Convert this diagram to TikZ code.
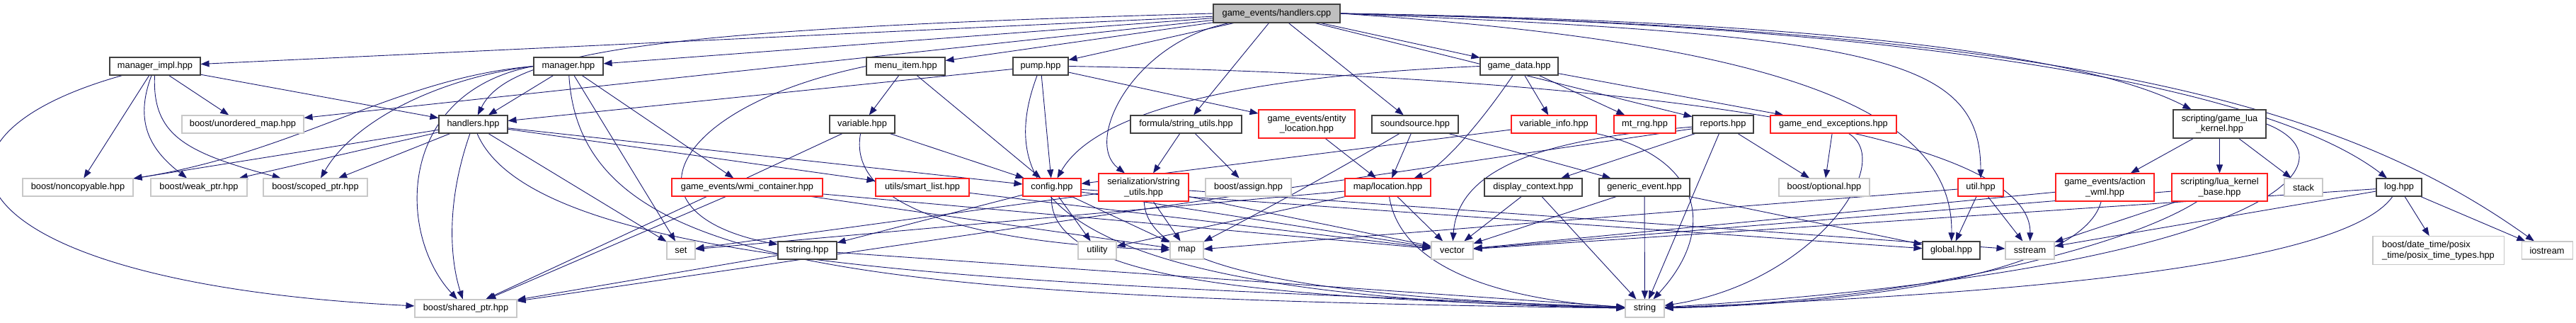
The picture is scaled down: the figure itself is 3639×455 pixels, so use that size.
\documentclass[tikz,border=0pt]{standalone}
\usepackage{fontspec}
\setmainfont{Liberation Sans}
\usepackage{tikz}
\usetikzlibrary{arrows.meta, backgrounds}
\definecolor{EdgeBlue}{RGB}{25,25,112}
\definecolor{SysGray}{RGB}{200,200,200}
\definecolor{RootGray}{RGB}{191,191,191}
\definecolor{BoxRed}{RGB}{255,30,30}

\begin{document}
\begin{tikzpicture}[x=1pt, y=-1pt,
	font=\fontsize{12.8}{14.5}\selectfont,
	hdr/.style={draw=black!75, line width=1.1pt, fill=white, inner sep=0pt, minimum height=25pt, align=center},
	hdrred/.style={hdr, draw=BoxRed},
	hdrsys/.style={hdr, draw=SysGray},
	hdrroot/.style={hdr, fill=RootGray},
	incl/.style={draw=EdgeBlue, line width=0.9pt, -{Triangle[length=12pt,width=9pt]}}]
	\useasboundingbox (0,0) rectangle (3639,455);
	
	% 根文件
	\node[hdrroot, minimum width=179pt, minimum height=26pt] (hc) at (1803.5,19) {game\_events/handlers.cpp};
	
	% 第一层
	\node[hdr, minimum width=128pt] (mimpl) at (219,93.5) {manager\_impl.hpp};
	\node[hdr, minimum width=98pt] (mgr) at (803,93.5) {manager.hpp};
	\node[hdr, minimum width=111pt] (menu) at (1279.5,93.5) {menu\_item.hpp};
	\node[hdr, minimum width=78pt] (pump) at (1470,93.5) {pump.hpp};
	\node[hdr, minimum width=110pt] (gdata) at (2146,93.5) {game\_data.hpp};
	
	% 第二层
	\node[hdrsys, minimum width=172pt] (umap) at (343,175.5) {boost/unordered\_map.hpp};
	\node[hdr, minimum width=97pt] (hdl) at (668.5,175.5) {handlers.hpp};
	\node[hdr, minimum width=92pt] (var) at (1218,175.5) {variable.hpp};
	\node[hdr, minimum width=157pt] (fsu) at (1675.5,175.5) {formula/string\_utils.hpp};
	\node[hdrred, minimum width=136pt, minimum height=40pt] (eloc) at (1846,175) {game\_events/entity\\\_location.hpp};
	\node[hdr, minimum width=122pt] (snd) at (1999,175.5) {soundsource.hpp};
	\node[hdrred, minimum width=120pt] (vinfo) at (2195,175.5) {variable\_info.hpp};
	\node[hdrred, minimum width=87pt] (mtrng) at (2323.5,175.5) {mt\_rng.hpp};
	\node[hdr, minimum width=86pt] (rep) at (2434,175.5) {reports.hpp};
	\node[hdrred, minimum width=178pt] (gee) at (2590,175.5) {game\_end\_exceptions.hpp};
	\node[hdr, minimum width=131pt, minimum height=40pt] (glk) at (3135.5,175) {scripting/game\_lua\\\_kernel.hpp};
	
	% 第三层
	\node[hdrsys, minimum width=156pt] (nonc) at (110,264.5) {boost/noncopyable.hpp};
	\node[hdrsys, minimum width=136pt] (weak) at (281,264.5) {boost/weak\_ptr.hpp};
	\node[hdrsys, minimum width=147pt] (scoped) at (445.5,264.5) {boost/scoped\_ptr.hpp};
	\node[hdrred, minimum width=213pt] (wmi) at (1055.5,264.5) {game\_events/wmi\_container.hpp};
	\node[hdrred, minimum width=132pt] (slist) at (1303,264.5) {utils/smart\_list.hpp};
	\node[hdrred, minimum width=82pt] (cfg) at (1486,264.5) {config.hpp};
	\node[hdrred, minimum width=127pt, minimum height=39pt] (ssu) at (1615.5,264.5) {serialization/string\\\_utils.hpp};
	\node[hdrsys, minimum width=121pt] (assign) at (1763.5,264.5) {boost/assign.hpp};
	\node[hdrred, minimum width=121pt] (loc) at (1960.5,264.5) {map/location.hpp};
	\node[hdr, minimum width=138pt] (dctx) at (2166,264.5) {display\_context.hpp};
	\node[hdr, minimum width=128pt] (gev) at (2323,264.5) {generic\_event.hpp};
	\node[hdrsys, minimum width=128pt] (opt) at (2577,264.5) {boost/optional.hpp};
	\node[hdrred, minimum width=64pt] (util) at (2798,264.5) {util.hpp};
	\node[hdrred, minimum width=139pt, minimum height=39pt] (awml) at (2973.5,264.5) {game\_events/action\\\_wml.hpp};
	\node[hdrred, minimum width=135pt, minimum height=39pt] (lkb) at (3135.5,264.5) {scripting/lua\_kernel\\\_base.hpp};
	\node[hdrsys, minimum width=54pt] (stack) at (3254,264.5) {stack};
	\node[hdr, minimum width=64pt] (log) at (3389,264.5) {log.hpp};
	
	% 第四层
	\node[hdrsys, minimum width=40pt] (set) at (962,353.5) {set};
	\node[hdr, minimum width=83pt] (tstr) at (1140.5,353.5) {tstring.hpp};
	\node[hdrsys, minimum width=54pt] (utility) at (1550,353.5) {utility};
	\node[hdrsys, minimum width=47pt] (map) at (1676.5,353.5) {map};
	\node[hdrsys, minimum width=59pt] (vector) at (2051.5,353.5) {vector};
	\node[hdr, minimum width=81pt] (global) at (2756.5,353.5) {global.hpp};
	\node[hdrsys, minimum width=69pt] (sstream) at (2867.5,353.5) {sstream};
	\node[hdrsys, minimum width=185pt, minimum height=40pt, align=left] (posix) at (3444.5,353.5) {boost/date\_time/posix\\\_time/posix\_time\_types.hpp};
	\node[hdrsys, minimum width=72pt] (iostream) at (3598,353.5) {iostream};
	
	% 第五层
	\node[hdrsys, minimum width=144pt] (sptr) at (658,435.5) {boost/shared\_ptr.hpp};
	\node[hdrsys, minimum width=55pt] (string) at (2323.5,435.5) {string};
	
	\begin{scope}[on background layer]
	% handlers.cpp
	\draw[incl] (hc) -- (mimpl);
	\draw[incl] (hc) -- (umap);
	\draw[incl] (hc) -- (mgr);
	\draw[incl] (hc.west) .. controls (950,40) and (720,70) .. (hdl);
	\draw[incl] (hc) -- (menu);
	\draw[incl] (hc) -- (pump);
	\draw[incl] (hc) -- (fsu);
	\draw[incl] (hc) .. controls (1600,60) and (1530,200) .. (ssu);
	\draw[incl] (hc) -- (snd);
	\draw[incl] (hc) -- (gdata);
	\draw[incl] (hc) -- (rep);
	\draw[incl] (hc.east) .. controls (2650,50) and (2798,80) .. (util);
	\draw[incl] (hc.east) .. controls (2500,60) and (2760,150) .. (global);
	\draw[incl] (hc.east) .. controls (2600,30) and (2950,80) .. (glk);
	\draw[incl] (hc.east) .. controls (2700,35) and (3200,120) .. (log);
	\draw[incl] (hc.east) .. controls (2900,40) and (3300,140) .. (iostream);
	
	% manager_impl.hpp
	\draw[incl] (mimpl) -- (umap);
	\draw[incl] (mimpl) -- (hdl);
	\draw[incl] (mimpl) -- (nonc);
	\draw[incl] (mimpl) .. controls (190,170) and (210,210) .. (weak);
	\draw[incl] (mimpl) .. controls (215,190) and (260,215) .. (scoped);
	\draw[incl] (mimpl) .. controls (-160,200) and (-60,400) .. (sptr);
	
	% manager.hpp
	\draw[incl] (mgr) -- (hdl);
	\draw[incl] (mgr) -- (wmi);
	\draw[incl] (mgr) -- (set);
	\draw[incl] (mgr.west) .. controls (560,110) and (420,215) .. (nonc);
	\draw[incl] (mgr.west) .. controls (620,110) and (500,170) .. (scoped);
	\draw[incl] (mgr.west) .. controls (560,130) and (560,330) .. (sptr);
	\draw[incl] (mgr) .. controls (820,380) and (1200,420) .. (string);
	
	% handlers.hpp
	\draw[incl] (hdl) -- (nonc);
	\draw[incl] (hdl) -- (weak);
	\draw[incl] (hdl) -- (scoped);
	\draw[incl] (hdl) .. controls (625,300) and (640,380) .. (sptr);
	\draw[incl] (hdl) -- (cfg);
	\draw[incl] (hdl) -- (slist);
	\draw[incl] (hdl) -- (set);
	\draw[incl] (hdl) .. controls (760,390) and (1500,400) .. (string);
	
	% menu_item.hpp, variable.hpp
	\draw[incl] (menu) -- (var);
	\draw[incl] (menu) -- (cfg);
	\draw[incl] (menu.west) .. controls (950,150) and (870,300) .. (tstr);
	\draw[incl] (var) -- (sptr);
	\draw[incl] (var) -- (cfg);
	\draw[incl] (var) .. controls (1195,300) and (1400,345) .. (map);
	
	% pump.hpp
	\draw[incl] (pump) -- (hdl);
	\draw[incl] (pump) -- (cfg);
	\draw[incl] (pump) -- (eloc);
	\draw[incl] (pump.east) .. controls (2400,110) and (2870,200) .. (sstream);
	\draw[incl] (pump) .. controls (1400,280) and (1500,420) .. (string);
	
	% wmi_container.hpp, smart_list.hpp
	\draw[incl] (wmi) -- (sptr);
	\draw[incl] (wmi) -- (vector);
	\draw[incl] (wmi) -- (map);
	\draw[incl] (slist) -- (vector);
	
	% config.hpp
	\draw[incl] (cfg) -- (tstr);
	\draw[incl] (cfg) -- (utility);
	\draw[incl] (cfg) -- (map);
	\draw[incl] (cfg) -- (vector);
	\draw[incl] (cfg) -- (global);
	\draw[incl] (cfg) .. controls (1480,400) and (1800,420) .. (string);
	
	% string_utils
	\draw[incl] (fsu) -- (ssu);
	\draw[incl] (fsu) -- (assign);
	\draw[incl] (ssu) -- (set);
	\draw[incl] (ssu) -- (map);
	\draw[incl] (ssu) -- (vector);
	\draw[incl] (ssu) -- (sstream);
	\draw[incl] (ssu) .. controls (1620,390) and (1900,420) .. (string);
	
	% soundsource.hpp, entity_location.hpp
	\draw[incl] (eloc) -- (loc);
	\draw[incl] (snd) -- (loc);
	\draw[incl] (snd) .. controls (1890,240) and (1780,300) .. (map);
	\draw[incl] (snd) -- (gev);
	
	% game_data.hpp
	\draw[incl] (gdata.west) .. controls (1700,110) and (1540,170) .. (cfg);
	\draw[incl] (gdata) .. controls (2080,190) and (2030,240) .. (loc);
	\draw[incl] (gdata) -- (vinfo);
	\draw[incl] (gdata) -- (mtrng);
	\draw[incl] (gdata) -- (gee);
	\draw[incl] (vinfo) -- (cfg);
	\draw[incl] (vinfo) .. controls (2400,220) and (2430,320) .. (string);
	
	% map/location.hpp
	\draw[incl] (loc) -- (vector);
	\draw[incl] (loc) -- (set);
	\draw[incl] (loc) -- (utility);
	\draw[incl] (loc) .. controls (1980,390) and (2150,425) .. (string);
	\draw[incl] (tstr) -- (sptr);
	\draw[incl] (tstr) -- (string);
	
	% reports.hpp
	\draw[incl] (rep) -- (dctx);
	\draw[incl] (rep) .. controls (2200,195) and (2060,230) .. (vector);
	\draw[incl] (rep) -- (opt);
	\draw[incl] (rep) -- (string);
	\draw[incl] (rep) -- (sptr);
	\draw[incl] (dctx) -- (vector);
	\draw[incl] (dctx) -- (string);
	\draw[incl] (gev) -- (vector);
	\draw[incl] (gev) -- (string);
	\draw[incl] (gev) -- (global);
	\draw[incl] (gee) -- (opt);
	\draw[incl] (gee) .. controls (2680,230) and (2560,400) .. (string);
	
	% util.hpp
	\draw[incl] (util) -- (global);
	\draw[incl] (util) -- (sstream);
	\draw[incl] (util) -- (map);
	
	% scripting
	\draw[incl] (glk) -- (awml);
	\draw[incl] (glk) -- (lkb);
	\draw[incl] (glk) -- (stack);
	\draw[incl] (glk.east) .. controls (3340,230) and (3200,380) .. (string);
	\draw[incl] (awml) -- (vector);
	\draw[incl] (awml) .. controls (2940,390) and (2600,430) .. (string);
	\draw[incl] (lkb) -- (sstream);
	\draw[incl] (lkb) -- (vector);
	\draw[incl] (lkb) .. controls (3000,350) and (2700,425) .. (string);
	
	% log.hpp
	\draw[incl] (log) -- (sstream);
	\draw[incl] (log) -- (vector);
	\draw[incl] (log) .. controls (3300,390) and (2700,420) .. (string);
	\draw[incl] (log) -- (posix);
	\draw[incl] (log) -- (iostream);
	\end{scope}
\end{tikzpicture}
\end{document}
